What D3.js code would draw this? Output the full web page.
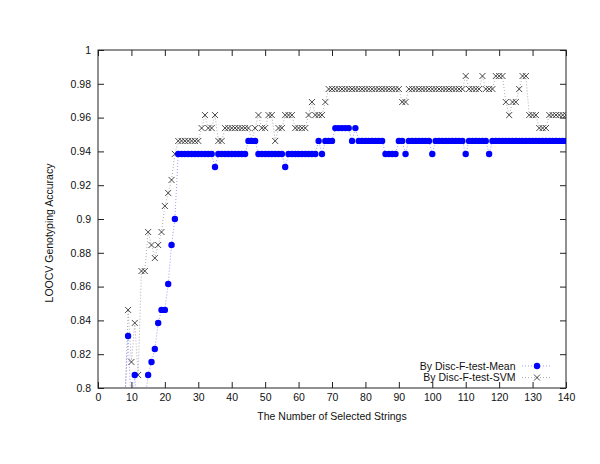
<!DOCTYPE html>
<html>
<head>
<meta charset="utf-8">
<script src="https://cdn.jsdelivr.net/npm/d3@7"></script>
<style>
body { margin: 0; background: #fff; }
text { font-family: "Liberation Sans", Arial, sans-serif; fill: #111; }
</style>
</head>
<body>
<div id="chart"></div>
<script>
var margin = { top: 50, right: 34, bottom: 76, left: 98 };
var width = 600 - margin.left - margin.right;
var height = 464 - margin.top - margin.bottom;

// number of selected strings starts at 8 and goes up by one
var firstCount = 8;
var lastCount = 140;

// LOOCV accuracy, by Disc-F-test-Mean (x = 8..140)
var meanAcc = [
    0.7923, 0.8308, 0.7846, 0.8077, 0.7846, 0.7769, 0.7923, 0.8077, 0.8154, 0.8231,
    0.8385, 0.8462, 0.8462, 0.8615, 0.8846, 0.9000, 0.9385, 0.9385, 0.9385, 0.9385,
    0.9385, 0.9385, 0.9385, 0.9385, 0.9385, 0.9385, 0.9385, 0.9308, 0.9385, 0.9385,
    0.9385, 0.9385, 0.9385, 0.9385, 0.9385, 0.9385, 0.9385, 0.9462, 0.9462, 0.9462,
    0.9385, 0.9385, 0.9385, 0.9385, 0.9385, 0.9385, 0.9385, 0.9385, 0.9308, 0.9385,
    0.9385, 0.9385, 0.9385, 0.9385, 0.9385, 0.9385, 0.9385, 0.9385, 0.9462, 0.9385,
    0.9462, 0.9462, 0.9462, 0.9538, 0.9538, 0.9538, 0.9538, 0.9538, 0.9462, 0.9538,
    0.9462, 0.9462, 0.9462, 0.9462, 0.9462, 0.9462, 0.9462, 0.9462, 0.9385, 0.9385,
    0.9385, 0.9385, 0.9462, 0.9462, 0.9385, 0.9462, 0.9462, 0.9462, 0.9462, 0.9462,
    0.9462, 0.9462, 0.9385, 0.9462, 0.9462, 0.9462, 0.9462, 0.9462, 0.9462, 0.9462,
    0.9462, 0.9462, 0.9385, 0.9462, 0.9462, 0.9462, 0.9462, 0.9462, 0.9462, 0.9385,
    0.9462, 0.9462, 0.9462, 0.9462, 0.9462, 0.9462, 0.9462, 0.9462, 0.9462, 0.9462,
    0.9462, 0.9462, 0.9462, 0.9462, 0.9462, 0.9462, 0.9462, 0.9462, 0.9462, 0.9462,
    0.9462, 0.9462, 0.9462
];

// LOOCV accuracy, by Disc-F-test-SVM (x = 8..140)
var svmAcc = [
    0.7846, 0.8462, 0.8154, 0.8385, 0.8077, 0.8692, 0.8692, 0.8923, 0.8846, 0.8769,
    0.8846, 0.8923, 0.9077, 0.9154, 0.9231, 0.9385, 0.9462, 0.9462, 0.9462, 0.9462,
    0.9462, 0.9462, 0.9462, 0.9538, 0.9615, 0.9538, 0.9538, 0.9615, 0.9462, 0.9462,
    0.9538, 0.9538, 0.9538, 0.9538, 0.9538, 0.9538, 0.9538, 0.9538, 0.9462, 0.9538,
    0.9615, 0.9538, 0.9538, 0.9615, 0.9615, 0.9462, 0.9538, 0.9538, 0.9615, 0.9615,
    0.9615, 0.9538, 0.9538, 0.9538, 0.9538, 0.9615, 0.9692, 0.9615, 0.9615, 0.9615,
    0.9692, 0.9769, 0.9769, 0.9769, 0.9769, 0.9769, 0.9769, 0.9769, 0.9769, 0.9769,
    0.9769, 0.9769, 0.9769, 0.9769, 0.9769, 0.9769, 0.9769, 0.9769, 0.9769, 0.9769,
    0.9769, 0.9769, 0.9769, 0.9692, 0.9692, 0.9769, 0.9769, 0.9769, 0.9769, 0.9769,
    0.9769, 0.9769, 0.9769, 0.9769, 0.9769, 0.9769, 0.9769, 0.9769, 0.9769, 0.9769,
    0.9769, 0.9769, 0.9846, 0.9769, 0.9769, 0.9769, 0.9769, 0.9846, 0.9769, 0.9769,
    0.9769, 0.9846, 0.9846, 0.9846, 0.9692, 0.9615, 0.9692, 0.9692, 0.9769, 0.9846,
    0.9846, 0.9615, 0.9615, 0.9615, 0.9538, 0.9538, 0.9538, 0.9615, 0.9615, 0.9615,
    0.9615, 0.9615, 0.9615
];

var xTicks = [0, 10, 20, 30, 40, 50, 60, 70, 80, 90, 100, 110, 120, 130, 140];
var yTicks = [0.8, 0.82, 0.84, 0.86, 0.88, 0.9, 0.92, 0.94, 0.96, 0.98, 1];
var seriesNames = ["By Disc-F-test-Mean", "By Disc-F-test-SVM"];
var xTitle = "The Number of Selected Strings";
var yTitle = "LOOCV Genotyping Accuracy";

var xScale = d3.scaleLinear()
    .domain([0, 140])
    .range([0, width]);

var yScale = d3.scaleLinear()
    .domain([0.8, 1])
    .range([height, 0]);

var svg = d3.select('#chart').append('svg')
    .attr("width", width + margin.left + margin.right)
    .attr("height", height + margin.top + margin.bottom);

var chart = svg.append("g")
    .attr("transform", "translate(" + margin.left + "," + margin.top + ")");

chart.append("clipPath").attr("id", "plotclip")
    .append("rect")
    .attr("width", width)
    .attr("height", height);

function toPoints(arr) {
    return arr.map(function(v, i) { return { x: firstCount + i, y: v }; });
}

var yFmt = function(d) { return String(+d.toFixed(2)); };

// axes, gnuplot style: ticks pointing in, mirrored on top and right
var tick = 6;
var ax = chart.append("g").attr("class", "axes");

ax.append("g")
    .attr("transform", "translate(0," + height + ")")
    .call(d3.axisBottom(xScale).tickValues(xTicks).tickSize(-tick).tickPadding(6));
ax.append("g")
    .call(d3.axisTop(xScale).tickValues(xTicks).tickSize(-tick).tickFormat(""));
ax.append("g")
    .call(d3.axisLeft(yScale).tickValues(yTicks).tickSize(-tick).tickPadding(7).tickFormat(yFmt));
ax.append("g")
    .attr("transform", "translate(" + width + ",0)")
    .call(d3.axisRight(yScale).tickValues(yTicks).tickSize(-tick).tickFormat(""));

ax.selectAll(".domain").remove();
ax.selectAll(".tick line").attr("stroke", "#222").attr("stroke-width", 1);
ax.selectAll(".tick text")
    .attr("font-size", "10.5px")
    .attr("font-family", "Liberation Sans, Arial, sans-serif")
    .attr("fill", "#111");

chart.append("rect")
    .attr("width", width)
    .attr("height", height)
    .attr("fill", "none")
    .attr("stroke", "#222")
    .attr("stroke-width", 1);

// titles
chart.append("text")
    .attr("x", width / 2)
    .attr("y", height + 32)
    .attr("text-anchor", "middle")
    .attr("font-size", "10.5px")
    .text(xTitle);

chart.append("text")
    .attr("transform", "translate(" + (-45) + "," + 183 + ") rotate(-90)")
    .attr("text-anchor", "middle")
    .attr("font-size", "10.5px")
    .text(yTitle);

var line = d3.line()
    .x(function(d) { return xScale(d.x); })
    .y(function(d) { return yScale(d.y); });

var series = [
    { name: seriesNames[0], data: toPoints(meanAcc), color: "#7070ff", mark: "circle" },
    { name: seriesNames[1], data: toPoints(svmAcc), color: "#888", mark: "cross" }
];

var plot = chart.append("g").attr("clip-path", "url(#plotclip)");

function drawMark(g, s, cx, cy) {
    if (s.mark == "circle") {
        g.append("circle")
            .attr("cx", cx).attr("cy", cy).attr("r", 3.2)
            .attr("fill", "#0000ff");
    } else {
        var r = 3;
        g.append("path")
            .attr("d", "M" + (cx - r) + "," + (cy - r) + "L" + (cx + r) + "," + (cy + r) +
                       "M" + (cx - r) + "," + (cy + r) + "L" + (cx + r) + "," + (cy - r))
            .attr("stroke", "#333")
            .attr("stroke-width", 0.9)
            .attr("fill", "none");
    }
}

// svm drawn first, mean on top
[series[1], series[0]].forEach(function(s) {
    plot.append("path")
        .datum(s.data)
        .attr("d", line)
        .attr("fill", "none")
        .attr("stroke", s.color)
        .attr("stroke-width", 0.7)
        .attr("stroke-dasharray", "1,2");

    var g = plot.append("g");
    s.data.filter(function(d) { return d.y >= 0.8; }).forEach(function(d) {
        drawMark(g, s, xScale(d.x), yScale(d.y));
    });
});

// legend, bottom right inside the frame
var legend = chart.append("g");
series.forEach(function(s, i) {
    var ly = height - 22 + i * 11.6;
    legend.append("text")
        .attr("x", 417.5)
        .attr("y", ly)
        .attr("dy", "0.35em")
        .attr("text-anchor", "end")
        .attr("font-size", "10.5px")
        .text(s.name);
    legend.append("line")
        .attr("x1", 424).attr("x2", 454)
        .attr("y1", ly).attr("y2", ly)
        .attr("stroke", s.color)
        .attr("stroke-width", 0.7)
        .attr("stroke-dasharray", "1,2");
    drawMark(legend, s, 439, ly);
});
</script>
</body>
</html>
